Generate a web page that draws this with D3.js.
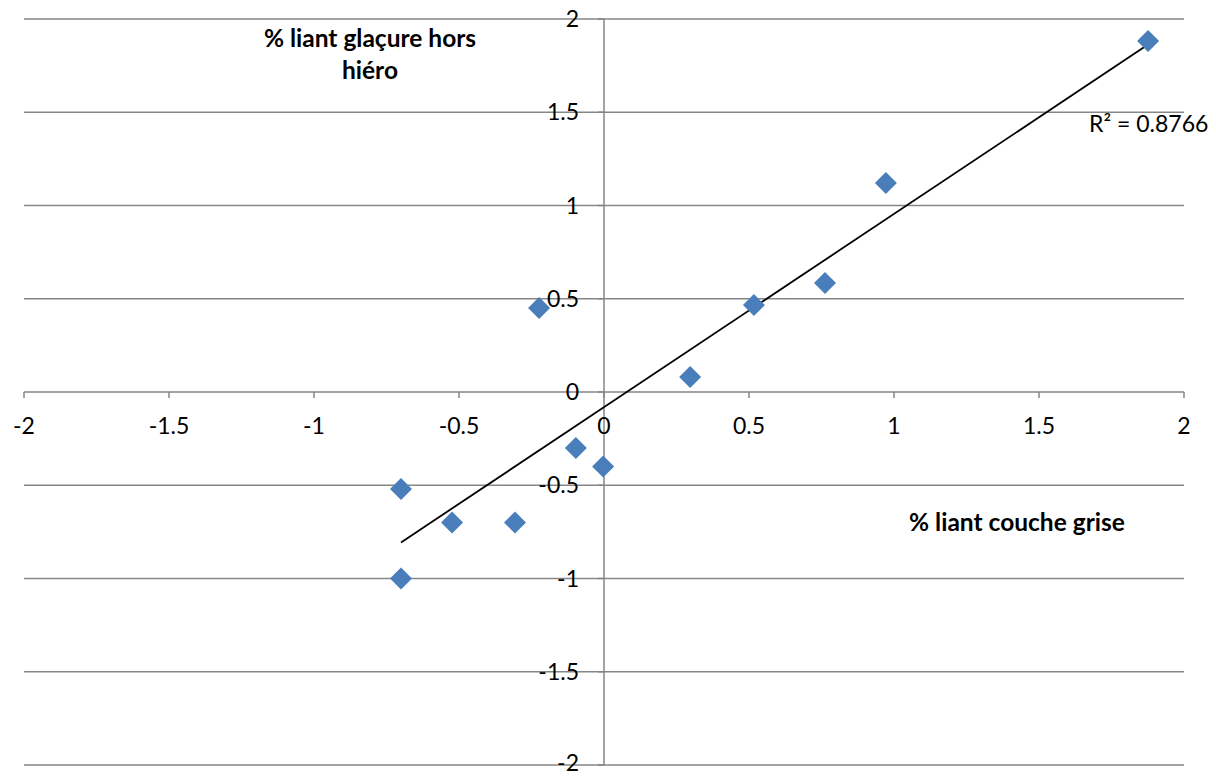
<!DOCTYPE html>
<html>
<head>
<meta charset="utf-8">
<script src="https://cdn.jsdelivr.net/npm/d3@7"></script>
<style>
  body { margin: 0; background: #fff; }
  svg text { font-family: Lato, "Open Sans", sans-serif; fill: #000; }
  .tick-label { font-size: 23px; }
  .title { font-size: 24.5px; font-weight: bold; }
</style>
</head>
<body>
<svg id="chart"></svg>
<script>
// Data
const xValues = [1.876, 0.972, 0.762, 0.517, 0.297, -0.224, -0.097, -0.003, -0.70, -0.524, -0.307, -0.70];
const yValues = [1.882, 1.12, 0.584, 0.466, 0.08, 0.45, -0.30, -0.40, -0.52, -0.70, -0.70, -1.00];
const tickValues = [-2, -1.5, -1, -0.5, 0, 0.5, 1, 1.5, 2];
const xTitle = "% liant couche grise";
const yTitle = ["% liant glaçure hors", "hiéro"];
const r2Label = "R² = 0.8766";

const width = 1216;
const height = 776;

const svg = d3.select("#chart").attr("width", width).attr("height", height);

const x = d3.scaleLinear().domain([-2, 2]).range([24, 1184]);
const y = d3.scaleLinear().domain([-2, 2]).range([765, 19]);

const gridColor = "#868686";

// Horizontal gridlines
svg.append("g")
  .selectAll("line")
  .data(tickValues)
  .enter()
  .append("line")
  .attr("x1", x(-2))
  .attr("x2", x(2))
  .attr("y1", (d) => y(d))
  .attr("y2", (d) => y(d))
  .attr("stroke", gridColor)
  .attr("stroke-width", 1.5);

// Vertical axis line
svg.append("line")
  .attr("x1", x(0)).attr("x2", x(0))
  .attr("y1", y(2)).attr("y2", y(-2))
  .attr("stroke", gridColor)
  .attr("stroke-width", 1.5);

// X tick marks
svg.append("g")
  .selectAll("line")
  .data(tickValues)
  .enter()
  .append("line")
  .attr("x1", (d) => x(d)).attr("x2", (d) => x(d))
  .attr("y1", y(0)).attr("y2", y(0) + 6)
  .attr("stroke", gridColor)
  .attr("stroke-width", 1.5);

// Y tick marks
svg.append("g")
  .selectAll("line")
  .data(tickValues)
  .enter()
  .append("line")
  .attr("x1", x(0) - 6).attr("x2", x(0))
  .attr("y1", (d) => y(d)).attr("y2", (d) => y(d))
  .attr("stroke", gridColor)
  .attr("stroke-width", 1.5);

// X tick labels
svg.append("g")
  .selectAll("text")
  .data(tickValues)
  .enter()
  .append("text")
  .attr("class", "tick-label")
  .attr("x", (d) => x(d))
  .attr("y", y(0) + 42)
  .attr("text-anchor", "middle")
  .text((d) => d);

// Y tick labels
svg.append("g")
  .selectAll("text")
  .data(tickValues)
  .enter()
  .append("text")
  .attr("class", "tick-label")
  .attr("x", x(0) - 25)
  .attr("y", (d) => Math.min(y(d) + 8, height - 5))
  .attr("text-anchor", "end")
  .text((d) => d);

// Trend line (least squares from the points)
const points = xValues.map((v, i) => ({ x: v, y: yValues[i] }));
const mx = d3.mean(xValues);
const my = d3.mean(yValues);
const sxx = d3.sum(points, (p) => (p.x - mx) * (p.x - mx));
const b = d3.sum(points, (p) => (p.x - mx) * (p.y - my)) / sxx;
const a = my - b * mx;

svg.append("path")
  .datum(d3.extent(xValues))
  .attr("fill", "none")
  .attr("stroke", "#000")
  .attr("stroke-width", 1.8)
  .attr("d", d3.line().x((d) => x(d)).y((d) => y(a + b * d)));

// Diamond markers
svg.append("g")
  .selectAll("path")
  .data(points)
  .enter()
  .append("path")
  .attr("transform", (d) => `translate(${x(d.x)}, ${y(d.y)})`)
  .attr("d", "M0,-11L11,0L0,11L-11,0Z")
  .attr("fill", "#4a7ebb");

// Titles
svg.append("text")
  .attr("class", "title")
  .attr("x", 1017)
  .attr("y", 531)
  .attr("text-anchor", "middle")
  .text(xTitle);

svg.append("g")
  .selectAll("text")
  .data(yTitle)
  .enter()
  .append("text")
  .attr("class", "title")
  .attr("x", 370)
  .attr("y", (d, i) => 47 + i * 32)
  .attr("text-anchor", "middle")
  .text((d) => d);

// R² label
svg.append("text")
  .attr("class", "tick-label")
  .attr("x", 1089)
  .attr("y", 132)
  .text(r2Label);
</script>
</body>
</html>
